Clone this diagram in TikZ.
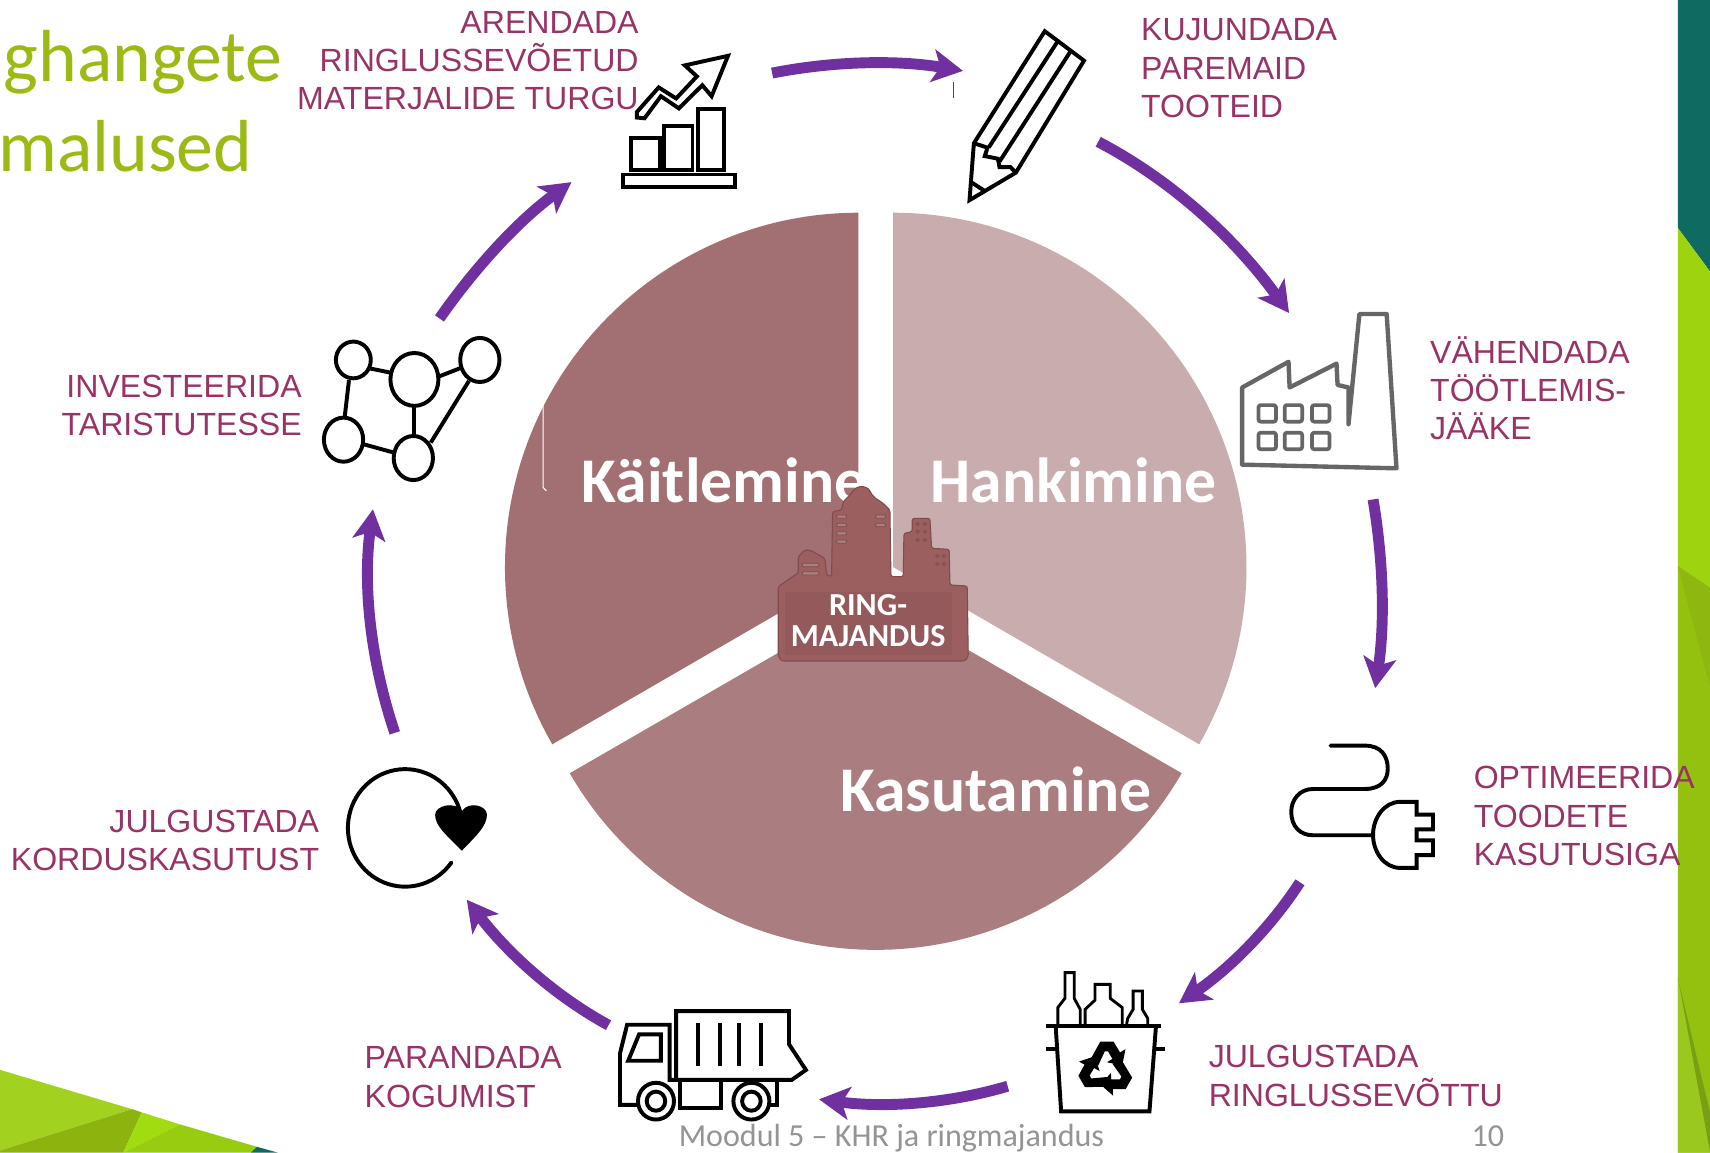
\documentclass[tikz,border=0pt]{standalone}
\usepackage{fontspec}
\setmainfont{Liberation Sans}
\newfontfamily\carl{Carlito}
\usetikzlibrary{arrows.meta,calc}
\definecolor{lbl}{RGB}{153,51,102}
\definecolor{flow}{RGB}{112,48,160}
\definecolor{teal}{RGB}{15,107,97}
\definecolor{ttl}{RGB}{155,187,20}
\definecolor{pieH}{RGB}{201,173,174}
\definecolor{pieK}{RGB}{162,112,115}
\definecolor{pieS}{RGB}{170,126,128}
\definecolor{fact}{RGB}{156,95,96}
\definecolor{factD}{RGB}{128,76,78}
\tikzset{
 zoomA/.style={x=.25pt,y=-.1684pt},
 zoomB/.style={xshift=392pt,x=.25pt,y=-.1684pt},
 zoomC/.style={yshift=-264.05pt,x=.25pt,y=-.1684pt},
 zoomD/.style={xshift=392pt,yshift=-264.05pt,x=.25pt,y=-.1684pt},
 flowarrow/.style={draw=flow,line width=5pt,-{Stealth[length=14pt,width=15pt,inset=3.5pt]}},
 lab/.style={text=lbl,inner sep=0pt,font=\fontsize{14.7}{17.6}\selectfont},
 labR/.style={lab,align=right,anchor=east},
 labL/.style={lab,align=left,anchor=west},
 pielab/.style={text=white,inner sep=0pt,anchor=base west,font=\carl\bfseries\fontsize{29.2}{32}\selectfont},
 titlelab/.style={text=ttl,inner sep=0pt,anchor=base west,font=\carl\fontsize{33.8}{38}\selectfont},
 footlab/.style={text=black!42,inner sep=0pt,anchor=base west,font=\carl\fontsize{14.7}{17}\selectfont},
 ico/.style={draw=black,line width=1.8pt,line join=miter},
 icog/.style={draw=black!60,line width=2pt,line join=round},
 win/.style={draw=factD,line width=.35pt,fill=pieS},
}
\begin{document}
\begin{tikzpicture}[x=.5pt,y=-.5pt]
\useasboundingbox (0,0) rectangle (1568,1057);
\fill[white] (0,0) rectangle (1568,1057);
% right strip
\fill[teal] (1538.5,0) -- (1568,0) -- (1568,249) -- (1538.5,209) -- cycle;
\fill[fill={rgb,255:red,158;green,212;blue,15}] (1538.5,209) -- (1568,249) -- (1568,539) -- (1538.5,519) -- cycle;
\fill[fill={rgb,255:red,148;green,192;blue,15}] (1538.5,519) -- (1568,539) -- (1568,1057) -- (1538.5,1057) -- cycle;
\fill[fill={rgb,255:red,142;green,183;blue,15}] (1538.5,519) -- (1568,539) -- (1568,630) -- cycle;
\fill[fill={rgb,255:red,120;green,160;blue,18}] (1538.5,897) -- (1568,1020) -- (1568,1057) -- cycle;
\fill[fill={rgb,255:red,155;green,200;blue,30}] (1538.5,897) -- (1568,1057) -- (1538.5,1057) -- cycle;
% lower-left corner
\fill[fill={rgb,255:red,162;green,209;blue,32}] (0,981) -- (121,1017) -- (0,1055) -- cycle;
\fill[fill={rgb,255:red,141;green,179;blue,15}] (0,1055) -- (121,1017) -- (130,1020) -- (113,1057) -- (0,1057) -- cycle;
\fill[fill={rgb,255:red,160;green,220;blue,16}] (130,1020) -- (165,1031) -- (113,1057) -- cycle;
\fill[fill={rgb,255:red,152;green,204;blue,16}] (165,1031) -- (235.5,1051.5) -- (230,1057) -- (113,1057) -- cycle;
\fill[teal] (235.5,1051.5) -- (255,1057) -- (230,1057) -- cycle;
% exploded pie
\fill[pieH] (819,520) -- plot[domain=-90:30,samples=70] ({819+324*cos(\x)},{520+325*sin(\x)}) -- cycle;
\fill[pieS] (803,547) -- plot[domain=30:150,samples=70] ({803+324*cos(\x)},{547+324*sin(\x)}) -- cycle;
\fill[pieK] (787,520) -- plot[domain=150:270,samples=70] ({787+324*cos(\x)},{520+325*sin(\x)}) -- cycle;
\draw[white,line width=.5pt] (498,372) -- (498,447) -- (501,450);
% texts
\node[titlelab] (t1) at (3,75) {ghangete};
\node[titlelab] (t2) at (-2,157) {malused};
\node[pielab] (pk) at (533,461) {Käitlemine};
\node[pielab] (ph) at (853,461) {Hankimine};
\node[pielab] (ps) at (770,744) {Kasutamine};
\node[footlab] (f1) at (622,1051) {Moodul 5 – KHR ja ringmajandus};
\node[footlab] (f2) at (1349,1051) {10};
% factory in the middle
\begin{scope}[shift={(678.5,421.8)},scale=.3056]
\draw[fill=fact,draw=factD,line width=.5pt,rounded corners=1pt]
 (115,590) -- (115,380) -- (165,345) -- (175,340) -- (175,290) -- (195,270) -- (210,270) -- (255,295) -- (260,345) -- (275,350) -- (278,155) -- (305,150) -- (310,125) -- (330,105) -- (345,85) -- (365,78) -- (385,85) -- (400,110) -- (430,130) -- (450,150) -- (453,350) -- (490,350) -- (492,220) -- (517,215) -- (517,175) -- (570,175) -- (575,265) -- (628,268) -- (630,375) -- (682,378) -- (685,590) -- (675,603) -- (125,603) -- cycle;
\fill[factD,opacity=.28] (135,395) rectangle (635,585);
\foreach \yy in {165,190,215,240} \draw[win,rounded corners=.5pt] (290,\yy) rectangle (320,\yy+10);
\foreach \yy in {165,190} \draw[win,rounded corners=.5pt] (407,\yy) rectangle (437,\yy+10);
\foreach \yy in {310,335} \draw[win,rounded corners=.5pt] (187,\yy) rectangle (237,\yy+10);
\foreach \px/\py in {533/192,555/192,533/215,555/215,533/240,555/240,592/288,612/288,592/312,612/312}
  \draw[factD,line width=.35pt] (\px,\py) circle[radius=5];
\end{scope}
\node[text=white,inner sep=0pt,align=center,font=\carl\bfseries\fontsize{14.7}{14}\selectfont] (rm) at (796,569) {RING-\\MAJANDUS};
% pencil
\begin{scope}[zoomB]
\draw[ico,fill=white] (348,85) -- (420,165) -- (295,470) -- (210,545) -- (218,390) -- cycle;
\draw[ico] (372,112) -- (245,402);
\draw[ico] (396,138) -- (265,440);
\draw[ico] (218,390) -- (243,402) -- (238,425) -- (262,432) -- (265,455) -- (285,455) -- (295,470);
\draw[ico] (212,495) -- (238,520);
\end{scope}
% chart
\begin{scope}[zoomA]
\draw[ico] (1143,475) rectangle (1348,508);
\draw[ico] (1158,375) rectangle (1210,462);
\draw[ico] (1218,342) rectangle (1270,462);
\draw[ico] (1280,297) rectangle (1328,462);
\draw[ico,fill=white] (1335,152) -- (1305,262) -- (1288,232) -- (1245,295) -- (1212,262) -- (1182,322) -- (1168,320) -- (1168,305) -- (1208,238) -- (1240,268) -- (1278,208) -- (1256,178) -- cycle;
% network
\foreach \cx/\cy/\rx/\ry in {648/980/32/50,760/1033/44/72,880/980/36/60,630/1197/36/60,758/1247/36/60}
  \draw[ico] (\cx,\cy) circle[x radius=\rx,y radius=\ry];
\draw[ico] (678,1003) -- (718,1015);
\draw[ico] (805,1025) -- (848,1000);
\draw[ico] (640,1035) -- (632,1137);
\draw[ico] (760,1105) -- (760,1187);
\draw[ico] (860,1037) -- (790,1205);
\draw[ico] (668,1210) -- (722,1232);
\end{scope}
% works icon
\begin{scope}[zoomB]
\draw[icog] (710,1055) -- (795,985) -- (797,1055) -- (883,990) -- (885,1048) -- (905,1055) -- (905,1155) -- (925,855) -- (975,855) -- (993,1275) -- (710,1265) -- cycle;
\foreach \wx in {740,788,838} \foreach \wy in {1103,1178}
  \draw[icog,line width=1.7pt,rounded corners=1pt] (\wx,\wy) rectangle (\wx+32,\wy+45);
\end{scope}
% plug
\begin{scope}[zoomD]
\draw[ico,line cap=round] (872,462) -- (935,462) .. controls (965,462) and (977,490) .. (977,525) .. controls (977,555) and (965,580) .. (935,580) -- (840,580) .. controls (815,580) and (800,610) .. (800,642) .. controls (800,680) and (815,706) .. (840,706) -- (950,706);
\draw[ico] (1030,615) -- (1000,615) .. controls (970,615) and (950,660) .. (950,705) .. controls (950,750) and (970,795) .. (1000,795) -- (1030,795) -- (1030,760) -- (1060,760) -- (1060,720) -- (1030,720) -- (1030,690) -- (1060,690) -- (1060,650) -- (1030,650) -- cycle;
% bin
\draw[ico] (350,1225) -- (562,1225);
\draw[ico] (350,1288) -- (368,1288);
\draw[ico] (550,1288) -- (568,1288);
\draw[ico] (368,1225) -- (378,1458) -- (540,1458) -- (552,1225);
\draw[ico,line width=1.3pt] (372,1222) -- (372,1175) -- (385,1150) -- (385,1080) -- (402,1080) -- (402,1150) -- (413,1180) -- (413,1222);
\draw[ico,line width=1.3pt] (422,1222) -- (422,1180) -- (440,1155) -- (440,1112) -- (468,1112) -- (468,1150) -- (490,1175) -- (490,1222);
\draw[ico,line width=1.3pt] (498,1222) -- (500,1205) -- (510,1180) -- (510,1130) -- (527,1130) -- (527,1180) -- (537,1205) -- (537,1222);
\end{scope}
\begin{scope}[shift={(1014,980)}]
\foreach \r in {0,120,240}
 \fill[black,rotate=\r] (-15,-7) -- (-5,-25) -- (7,-25) -- (13,-15) -- (18,-18) -- (15,-3) -- (1,-6) -- (6,-9) -- (2,-16) -- (-1,-16) -- (-7,-3) -- cycle;
\end{scope}
% truck
\begin{scope}[zoomC]
\draw[ico] (1240,1185) -- (1447,1185) -- (1447,1275) -- (1478,1345) -- (1452,1372) -- (1240,1372) -- cycle;
\foreach \sx in {1280,1320,1355,1395} \draw[ico] (\sx,1218) -- (\sx,1335);
\draw[ico] (1172,1440) -- (1137,1440) -- (1137,1300) -- (1150,1222) -- (1228,1222) -- (1228,1372) -- (1240,1372);
\draw[ico] (1172,1248) -- (1212,1248) -- (1212,1320) -- (1152,1320) -- cycle;
\draw[ico] (1247,1375) -- (1247,1448) -- (1322,1448) -- (1322,1375);
\draw[ico] (1412,1440) -- (1425,1440) -- (1425,1372);
\foreach \wx in {1203,1378} {
  \draw[ico,fill=white] (\wx,1430) circle[x radius=33,y radius=50];
  \draw[ico] (\wx,1430) circle[x radius=17,y radius=26];
}
% reuse loop
\draw[ico,line cap=round] plot[domain=36:345,samples=70] ({743+105*cos(\x)},{686+160*sin(\x)});
\fill[black] (847,748) .. controls (815,700) and (798,680) .. (798,650) .. controls (798,625) and (835,612) .. (847,640) .. controls (860,612) and (893,625) .. (893,650) .. controls (893,680) and (875,705) .. (847,748) -- cycle;
\end{scope}
% arrows
\coordinate (a1) at (708,67); \coordinate (c1) at (794.5,50); \coordinate (b1) at (883,65);
\coordinate (a2) at (1007,130); \coordinate (c2) at (1105.5,181.5); \coordinate (b2) at (1182,287);
\coordinate (a3) at (1259,458); \coordinate (c3) at (1274,545.5); \coordinate (b3) at (1261,631);
\coordinate (a4) at (1192,809); \coordinate (c4) at (1151.5,871.5); \coordinate (b4) at (1081,920);
\coordinate (a5) at (924,996); \coordinate (c5) at (842.5,1020); \coordinate (b5) at (751,1008);
\coordinate (a6) at (558,940); \coordinate (c6) at (487,901.5); \coordinate (b6) at (428,825);
\coordinate (a7) at (362,672); \coordinate (c7) at (328,570.5); \coordinate (b7) at (342,467);
\coordinate (a8) at (403,292); \coordinate (c8) at (456.5,215.5); \coordinate (b8) at (524,167);
\foreach \n in {1,...,8} \draw[flowarrow] (a\n) .. controls ($(a\n)!.667!(c\n)$) and ($(b\n)!.667!(c\n)$) .. (b\n);
\draw[flow,line width=.5pt] (874,75) -- (874,90);
% labels
\node[labR] (l1) at (586,55.5) {ARENDADA\\RINGLUSSEVÕETUD\\MATERJALIDE TURGU};
\node[labL] (l2) at (1046,62.5) {KUJUNDADA\\PAREMAID\\TOOTEID};
\node[labL] (l3) at (1311,356) {VÄHENDADA\\TÖÖTLEMIS-\\JÄÄKE};
\node[labL] (l4) at (1351,748.5) {OPTIMEERIDA\\TOODETE\\KASUTUSIGA};
\node[labL] (l5) at (1108,986.5) {JULGUSTADA\\RINGLUSSEVÕTTU};
\node[labL] (l6) at (334,987.5) {PARANDADA\\KOGUMIST};
\node[labR] (l7) at (293,770.5) {JULGUSTADA\\KORDUSKASUTUST};
\node[labR] (l8) at (277,371.5) {INVESTEERIDA\\TARISTUTESSE};
\end{tikzpicture}
\end{document}
